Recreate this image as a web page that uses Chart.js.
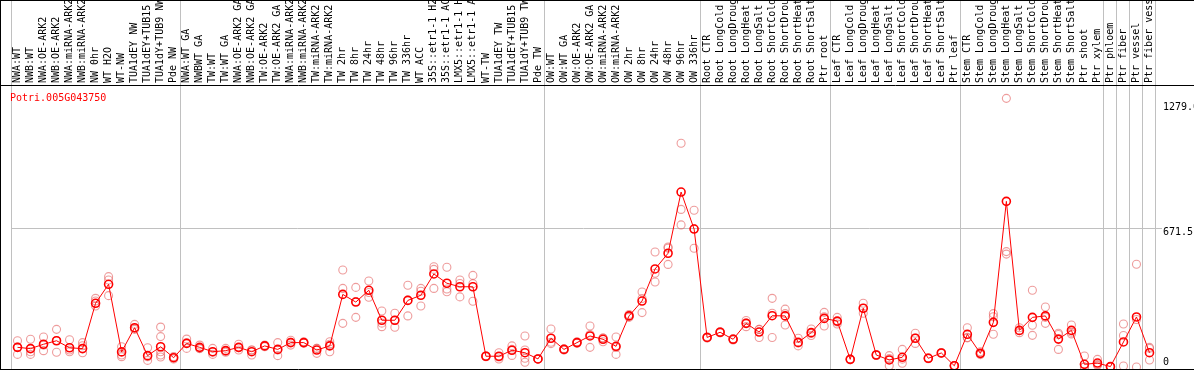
<!DOCTYPE html>
<html>
<head>
<meta charset="utf-8">
<script src="https://cdn.jsdelivr.net/npm/chart.js@4.4.1/dist/chart.umd.min.js"></script>
<style>
html,body{margin:0;padding:0;background:#fff;}
canvas{display:block;}
</style>
</head>
<body>
<canvas id="c" width="1194" height="370"></canvas>
<script>
const geneId = 'Potri.005G043750';

const categories = [
  'NWA:WT','NWB:WT','NWA:OE-ARK2','NWB:OE-ARK2','NWA:miRNA-ARK2','NWB:miRNA-ARK2','NW 0hr','WT H2O','WT-NW','TUA1dEY NW','TUA1dEY+TUB15 NW','TUA1dY+TUB9 NW','Pde NW',
  'NWA:WT GA','NWBWT GA','TW:WT','TW:WT GA','NWA:OE-ARK2 GA','NWB:OE-ARK2 GA','TW:OE-ARK2','TW:OE-ARK2 GA','NWA:miRNA-ARK2 GA','NWB:miRNA-ARK2 GA','TW:miRNA-ARK2','TW:miRNA-ARK2 GA',
  'TW 2hr','TW 8hr','TW 24hr','TW 48hr','TW 96hr','TW 336hr','WT ACC','35S::etr1-1 H2O','35S::etr1-1 ACC','LMX5::etr1-1 H2O','LMX5::etr1-1 ACC','WT-TW','TUA1dEY TW','TUA1dEY+TUB15 TW','TUA1dY+TUB9 TW','Pde TW',
  'OW:WT','OW:WT GA','OW:OE-ARK2','OW:OE-ARK2 GA','OW:miRNA-ARK2','OW:miRNA-ARK2 GA','OW 2hr','OW 8hr','OW 24hr','OW 48hr','OW 96hr','OW 336hr',
  'Root CTR','Root LongCold','Root LongDrought','Root LongHeat','Root LongSalt','Root ShortCold','Root ShortDrought','Root ShortHeat','Root ShortSalt','Ptr root',
  'Leaf CTR','Leaf LongCold','Leaf LongDrought','Leaf LongHeat','Leaf LongSalt','Leaf ShortCold','Leaf ShortDrought','Leaf ShortHeat','Leaf ShortSalt','Ptr leaf',
  'Stem CTR','Stem LongCold','Stem LongDrought','Stem LongHeat','Stem LongSalt','Stem ShortCold','Stem ShortDrought','Stem ShortHeat','Stem ShortSalt','Ptr shoot','Ptr xylem',
  'Ptr phloem','Ptr fiber','Ptr vessel','Ptr fiber vessel'
];

const meanValues = [
  95, 89, 110, 127, 93, 89, 308, 400, 73, 190, 55, 98, 45,
  114, 95, 74, 79, 95, 74, 102, 85, 118, 118, 82, 102,
  351, 314, 371, 226, 226, 322, 347, 450, 405, 388, 388, 52, 52, 81, 69, 39,
  139, 85, 118, 150, 134, 100, 247, 319, 474, 550, 846, 667,
  143, 168, 134, 211, 169, 248, 247, 119, 166, 235,
  222, 37, 284, 58, 34, 47, 139, 42, 68, 6,
  158, 66, 216, 801, 177, 240, 247, 135, 177, 13, 19,
  2, 121, 242, 69
];

const replicateValues = [
  [127, 97, 61], [134, 74, 61], [145, 79, 106], [182, 71, 128], [132, 74, 82], [118, 103, 69],
  [332, 295, 319], [437, 421, 345], [98, 58, 50], [206, 187, 182], [93, 32, 50], [193, 147, 74, 58, 48], [50, 39, 45],
  [135, 90, 117], [106, 90, 89], [90, 61, 71], [90, 71, 76], [110, 82, 93], [82, 58, 82], [106, 98, 102], [118, 55, 82],
  [129, 106, 119], [122, 116, 116], [90, 66, 90], [122, 74, 110],
  [469, 380, 211], [385, 240, 317], [416, 337, 360], [271, 195, 212], [260, 192, 226], [395, 247, 324], [380, 295, 366],
  [485, 472, 380], [482, 364, 377], [421, 339, 404], [443, 318, 403], [52, 50, 54], [69, 39, 48], [102, 56, 85],
  [150, 82, 42, 23], [39, 40, 38],
  [184, 113, 120], [85, 88, 82], [122, 115, 117], [198, 95, 157], [122, 140, 140], [145, 61, 94], [247, 240, 254],
  [363, 263, 331], [556, 453, 411], [575, 496, 580], [1082, 762, 687], [758, 574, 669],
  [143, 140, 146], [168, 165, 171], [134, 131, 137], [225, 195, 213], [182, 143, 182], [332, 260, 143], [280, 203, 258],
  [139, 102, 116], [184, 152, 162], [264, 198, 243],
  [240, 208, 218], [37, 35, 39], [308, 260, 284], [58, 56, 60], [55, 6, 41], [85, 18, 38], [163, 114, 140], [42, 40, 44],
  [68, 66, 70], [6, 5, 7],
  [190, 143, 141], [74, 60, 64], [258, 243, 158], [1299, 558, 546], [190, 166, 175], [371, 202, 153], [290, 211, 240],
  [163, 85, 157], [203, 160, 168], [53, 0, 0], [37, 12, 8],
  [2, 2, 2], [208, 152, 5], [497, 230, 0], [95, 90, 34]
];

const yTickValues = [0, 671.5, 1279];
const yTickLabels = ['0', '671.5', '1279.0'];
const groupStarts = [0, 13, 41, 53, 63, 73, 84, 85, 86, 87, 88];

const replicatePoints = [];
replicateValues.forEach((reps, i) => {
  reps.forEach(v => replicatePoints.push({ x: categories[i], y: v }));
});

const monoFont = { family: 'DejaVu Sans Mono', size: 10 };

const framePlugin = {
  id: 'frame',
  afterDraw(chart) {
    const ctx = chart.ctx;
    const a = chart.chartArea;
    ctx.save();
    ctx.strokeStyle = '#000';
    ctx.lineWidth = 1;
    ctx.beginPath();
    ctx.moveTo(0, 0.5); ctx.lineTo(chart.width, 0.5);
    ctx.moveTo(0.5, 0); ctx.lineTo(0.5, chart.height);
    ctx.moveTo(0, chart.height - 0.5); ctx.lineTo(chart.width, chart.height - 0.5);
    ctx.moveTo(0, Math.round(a.top) + 0.5); ctx.lineTo(chart.width, Math.round(a.top) + 0.5);
    ctx.stroke();
    ctx.fillStyle = '#ff0000';
    ctx.font = '10px "DejaVu Sans Mono"';
    ctx.textBaseline = 'alphabetic';
    ctx.textAlign = 'left';
    ctx.fillText(chart.data.datasets[0].label, 10, a.top + 16);
    ctx.restore();
  }
};

const noPad = (s) => { s.paddingLeft = 0; s.paddingRight = 0; s.paddingTop = 0; s.paddingBottom = 0; };

new Chart(document.getElementById('c'), {
  type: 'line',
  data: {
    labels: categories,
    datasets: [
      {
        label: geneId,
        data: meanValues,
        borderColor: '#ff0000',
        borderWidth: 1,
        pointRadius: 4,
        pointBorderWidth: 1.6,
        pointBorderColor: '#ff0000',
        pointBackgroundColor: 'rgba(0,0,0,0)',
        tension: 0,
        fill: false
      },
      {
        label: 'replicates',
        data: replicatePoints,
        showLine: false,
        pointRadius: 4,
        pointBorderWidth: 1.1,
        pointBorderColor: 'rgba(228,95,95,0.62)',
        pointBackgroundColor: 'rgba(0,0,0,0)'
      }
    ]
  },
  options: {
    responsive: false,
    animation: false,
    events: [],
    layout: { autoPadding: false, padding: { left: 11, right: 0, top: 0, bottom: 1 } },
    plugins: { legend: { display: false }, tooltip: { enabled: false }, title: { display: false } },
    scales: {
      x: {
        type: 'category',
        position: 'top',
        offset: true,
        border: { display: false },
        grid: {
          offset: true,
          drawOnChartArea: true,
          drawTicks: true,
          tickLength: 85,
          lineWidth: 1,
          color: (c) => (c.type !== 'tick' || groupStarts.includes(c.index)) ? '#c0c0c0' : 'rgba(0,0,0,0)'
        },
        ticks: {
          autoSkip: false,
          minRotation: 90,
          maxRotation: 90,
          padding: -83,
          labelOffset: 12,
          color: '#000',
          font: monoFont
        },
        afterFit: (s) => { s.height = 85; noPad(s); }
      },
      y: {
        type: 'linear',
        position: 'right',
        min: -9.67,
        max: 1363.6,
        border: { display: false },
        afterBuildTicks: (s) => { s.ticks = yTickValues.map(v => ({ value: v })); },
        grid: {
          tickLength: 6,
          lineWidth: 1,
          color: (c) => (c.tick && c.tick.value === 671.5) ? '#c0c0c0' : 'rgba(0,0,0,0)'
        },
        ticks: {
          autoSkip: false,
          padding: 1,
          color: '#000',
          font: { family: 'DejaVu Sans Mono', size: 10, lineHeight: 0.9 },
          callback: (v) => {
            const idx = yTickValues.indexOf(v);
            const lab = idx >= 0 ? yTickLabels[idx] : '';
            return idx === 0 ? [lab, ''] : ['', lab];
          }
        },
        afterFit: (s) => { s.width = 38; noPad(s); }
      }
    }
  },
  plugins: [framePlugin]
});
</script>
</body>
</html>
